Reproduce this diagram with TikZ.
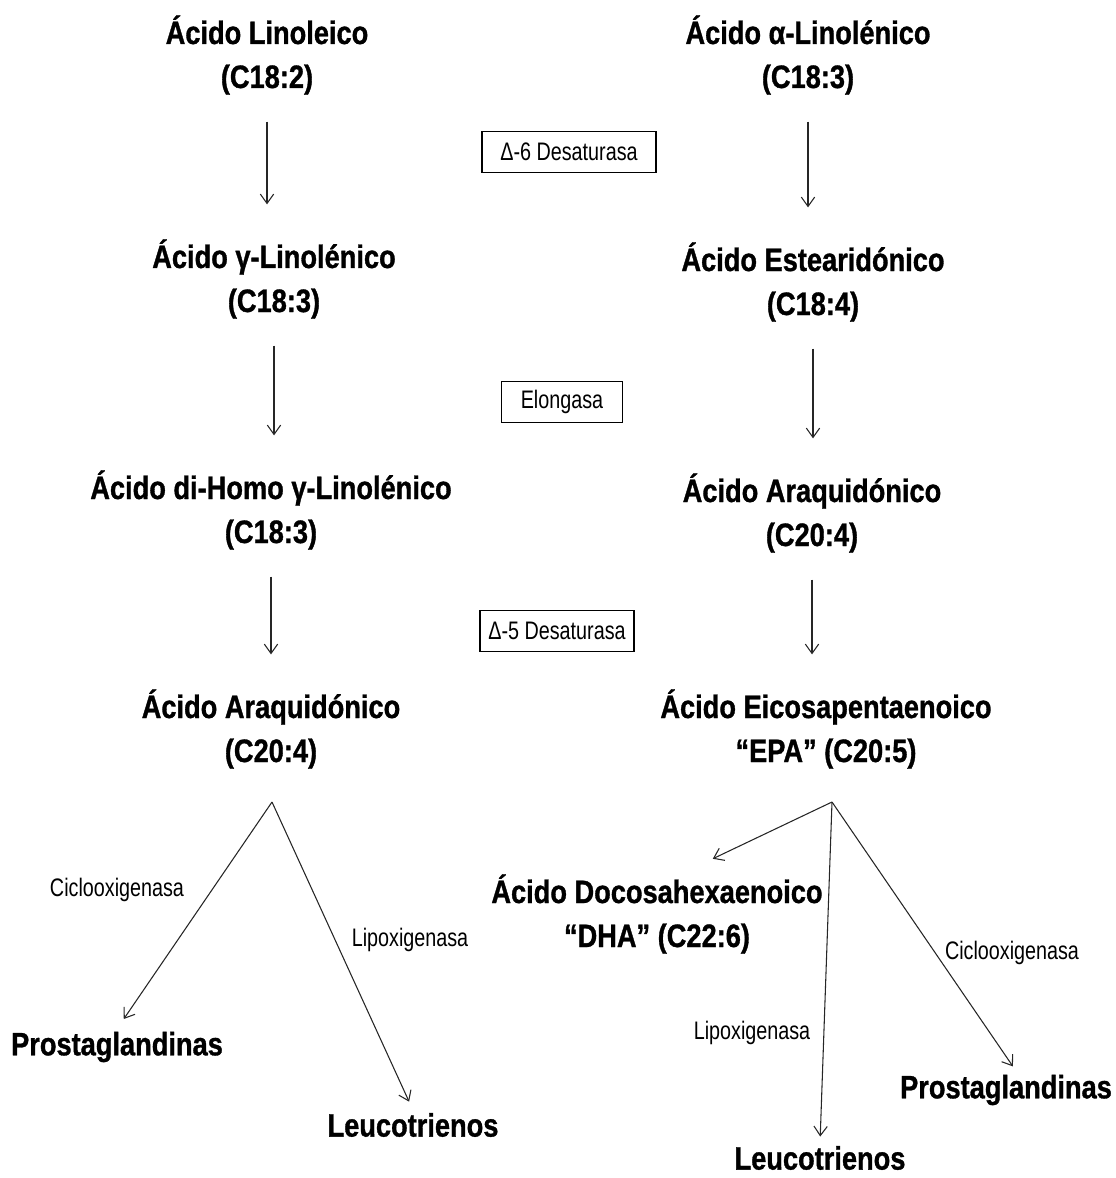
\documentclass[tikz,border=0pt]{standalone}
\usepackage{fontspec}
\setmainfont{Liberation Sans}
\newfontfamily\acidfont{Liberation Sans}[FakeStretch=0.84, FakeBold=1]
\newfontfamily\enzfont{Liberation Sans}[FakeStretch=0.78]
\usepackage{tikz}
\usetikzlibrary{arrows.meta}
\tikzset{
	acid/.style={align=center, inner sep=2pt, font=\acidfont\bfseries\fontsize{24.3}{33}\selectfont},
	enz/.style={inner sep=1pt, font=\enzfont\fontsize{19}{20}\selectfont},
	enzbox/.style={enz, draw=black, line width=1pt, minimum height=30.75pt},
	arr/.style={->, >={Straight Barb[length=7pt,width=10pt]}, line width=0.8pt, draw=black!85},
	vline/.style={arr, shorten <=18pt, shorten >=24pt},
}

\begin{document}
\begin{tikzpicture}[x=0.75pt, y=-0.75pt]
		%%%%% START %%%%%
		\useasboundingbox (0, 0) rectangle (1116, 1178);
		
		% omega-6 column
		\node[acid] (l1) at (267, 55) {Ácido Linoleico\\(C18:2)};
		\node[acid] (l2) at (274, 279) {Ácido γ-Linolénico\\(C18:3)};
		\node[acid] (l3) at (271, 510) {Ácido di-Homo γ-Linolénico\\(C18:3)};
		\node[acid] (l4) at (271, 729) {Ácido Araquidónico\\(C20:4)};
		
		% omega-3 column
		\node[acid] (r1) at (808, 55) {Ácido α-Linolénico\\(C18:3)};
		\node[acid] (r2) at (813, 282) {Ácido Estearidónico\\(C18:4)};
		\node[acid] (r3) at (812, 513) {Ácido Araquidónico\\(C20:4)};
		\node[acid] (r4) at (826, 729) {Ácido Eicosapentaenoico\\“EPA” (C20:5)};
		
		% enzymes
		\node[enzbox, minimum width=130.5pt] (d6) at (569, 152) {Δ-6 Desaturasa};
		\node[enzbox, minimum width=90.75pt] (elo) at (562, 402) {Elongasa};
		\node[enzbox, minimum width=115.5pt] (d5) at (557, 631) {Δ-5 Desaturasa};
		
		\draw[vline] (l1.south) -- (l1.south |- l2.north);
		\draw[vline] (l2.south) -- (l2.south |- l3.north);
		\draw[vline] (l3.south) -- (l3.south |- l4.north);
		\draw[vline] (r1.south) -- (r1.south |- r2.north);
		\draw[vline] (r2.south) -- (r2.south |- r3.north);
		\draw[vline] (r3.south) -- (r3.south |- r4.north);
		
		% products, left
		\node[acid] (lprost) at (117, 1047) {Prostaglandinas};
		\node[acid] (lleuco) at (413, 1125) {Leucotrienos};
		\node[enz] (lcox) at (117, 890) {Ciclooxigenasa};
		\node[enz] (llox) at (410, 940) {Lipoxigenasa};
		
		\coordinate (lsplit) at (272, 802);
		\draw[arr, shorten >=9pt] (lsplit) -- (lprost.north);
		\draw[arr, shorten >=7pt] (lsplit) -- (lleuco.north);
		
		% products, right
		\node[acid] (dha) at (657, 914) {Ácido Docosahexaenoico\\“DHA” (C22:6)};
		\node[acid] (rprost) at (1006, 1090) {Prostaglandinas};
		\node[acid] (rleuco) at (820, 1158) {Leucotrienos};
		\node[enz] (rcox) at (1012, 953) {Ciclooxigenasa};
		\node[enz] (rlox) at (752, 1033) {Lipoxigenasa};
		
		\coordinate (rsplit) at (832, 802);
		\draw[arr, shorten >=22pt] (rsplit) -- ([xshift=22pt]dha.north);
		\draw[arr, shorten >=5pt] (rsplit) -- (rleuco.north);
		\draw[arr, shorten >=5pt] (rsplit) -- ([xshift=8pt]rprost.north);
		
		%%%%% END %%%%%
	\end{tikzpicture}
\end{document}
